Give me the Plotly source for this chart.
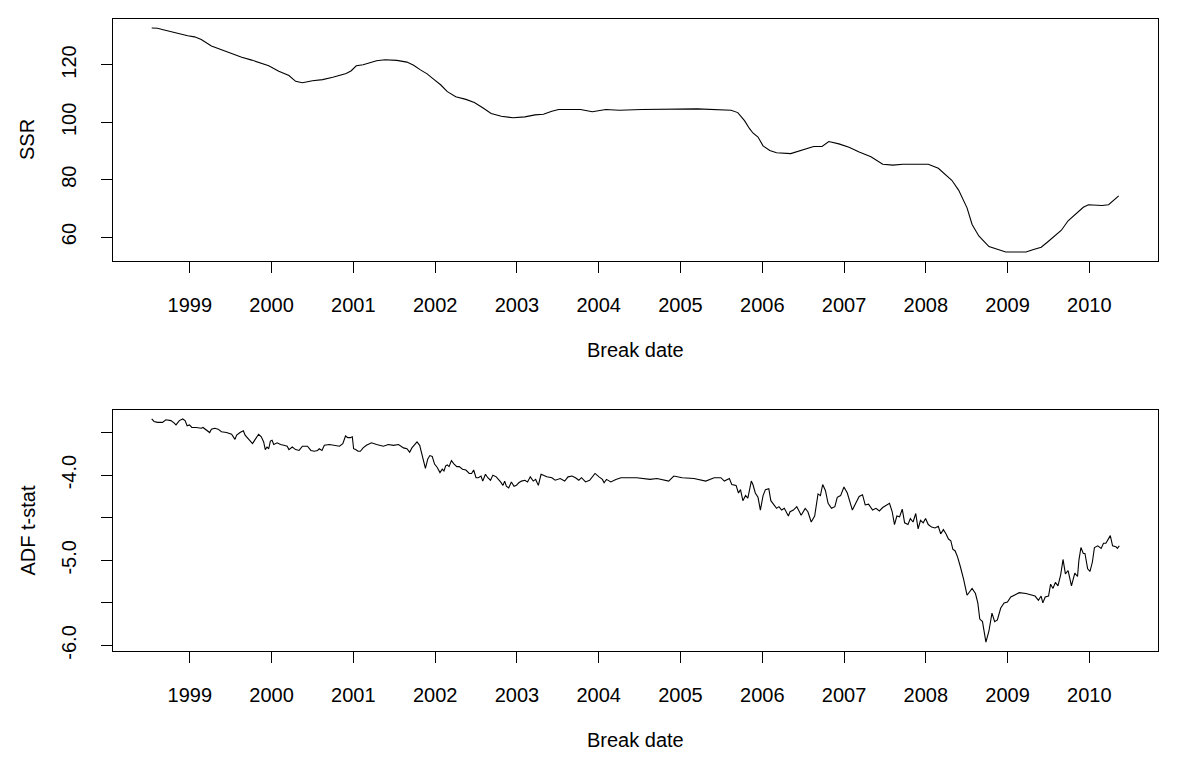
import plotly.graph_objects as go

# ---------------- data ----------------
ssr_years = [1998.534, 1998.604, 1998.687, 1998.769, 1998.852, 1998.975, 1999.058, 1999.140,
             1999.264, 1999.387, 1999.511, 1999.635, 1999.758, 1999.882, 1999.965, 2000.088,
             2000.212, 2000.294, 2000.377, 2000.500, 2000.624, 2000.748, 2000.830, 2000.913,
             2000.974, 2001.036, 2001.119, 2001.201, 2001.284, 2001.387, 2001.531, 2001.655,
             2001.737, 2001.820, 2001.902, 2001.984, 2002.067, 2002.149, 2002.252, 2002.376,
             2002.479, 2002.582, 2002.685, 2002.809, 2002.953, 2003.097, 2003.221, 2003.324,
             2003.427, 2003.510, 2003.777, 2003.922, 2004.087, 2004.251, 2004.526, 2005.206,
             2005.495, 2005.618, 2005.701, 2005.783, 2005.845, 2005.886, 2005.948, 2006.010,
             2006.092, 2006.175, 2006.348, 2006.443, 2006.546, 2006.628, 2006.731, 2006.814,
             2006.937, 2007.061, 2007.185, 2007.329, 2007.473, 2007.597, 2007.721, 2008.030,
             2008.153, 2008.236, 2008.318, 2008.401, 2008.462, 2008.504, 2008.566, 2008.648,
             2008.772, 2008.875, 2008.978, 2009.081, 2009.225, 2009.308, 2009.411, 2009.493,
             2009.575, 2009.658, 2009.740, 2009.843, 2009.926, 2009.988, 2010.070, 2010.153,
             2010.235, 2010.297, 2010.359]
ssr_values = [132.9, 132.8, 132.2, 131.6, 130.9, 130.2, 129.8, 128.9,
              126.6, 125.3, 124.0, 122.7, 121.7, 120.6, 119.7, 117.8,
              116.3, 114.3, 113.8, 114.5, 114.9, 115.7, 116.4, 117.0,
              118.0, 119.7, 120.1, 120.8, 121.5, 121.8, 121.6, 121.0,
              119.9, 118.3, 116.9, 115.0, 113.1, 110.7, 108.9, 108.0,
              106.9, 105.1, 103.1, 102.1, 101.6, 101.9, 102.6, 102.8,
              103.9, 104.5, 104.5, 103.7, 104.5, 104.2, 104.5, 104.7,
              104.5, 104.2, 103.4, 100.6, 97.8, 96.3, 94.9, 91.8,
              90.2, 89.4, 89.1, 89.9, 90.8, 91.6, 91.6, 93.3,
              92.5, 91.3, 89.7, 88.0, 85.4, 85.1, 85.4, 85.4,
              84.0, 82.0, 79.8, 76.4, 73.0, 70.2, 64.4, 60.4,
              56.7, 55.8, 54.8, 54.8, 54.8, 55.6, 56.5, 58.4,
              60.3, 62.4, 65.7, 68.2, 70.4, 71.3, 71.1, 71.0,
              71.3, 72.7, 74.4]

adf_years = [1998.534, 1998.563, 1998.604, 1998.666, 1998.707, 1998.769, 1998.810, 1998.831,
             1998.872, 1998.913, 1998.942, 1998.967, 1998.996, 1999.025, 1999.078, 1999.140,
             1999.161, 1999.202, 1999.243, 1999.264, 1999.305, 1999.346, 1999.387, 1999.449,
             1999.511, 1999.552, 1999.573, 1999.614, 1999.655, 1999.676, 1999.717, 1999.767,
             1999.800, 1999.841, 1999.874, 1999.903, 1999.923, 1999.944, 1999.965, 1999.985,
             2000.006, 2000.026, 2000.068, 2000.109, 2000.150, 2000.191, 2000.212, 2000.253,
             2000.294, 2000.336, 2000.377, 2000.439, 2000.480, 2000.521, 2000.562, 2000.583,
             2000.616, 2000.645, 2000.707, 2000.768, 2000.830, 2000.871, 2000.904, 2000.933,
             2000.962, 2000.987, 2001.003, 2001.028, 2001.057, 2001.086, 2001.119, 2001.160,
             2001.222, 2001.284, 2001.366, 2001.428, 2001.490, 2001.552, 2001.613, 2001.655,
             2001.688, 2001.716, 2001.745, 2001.778, 2001.811, 2001.840, 2001.869, 2001.881,
             2001.910, 2001.935, 2001.964, 2001.993, 2002.026, 2002.059, 2002.087, 2002.108,
             2002.129, 2002.149, 2002.170, 2002.199, 2002.232, 2002.265, 2002.294, 2002.335,
             2002.376, 2002.417, 2002.446, 2002.471, 2002.500, 2002.528, 2002.561, 2002.582,
             2002.615, 2002.644, 2002.677, 2002.706, 2002.747, 2002.776, 2002.800, 2002.829,
             2002.850, 2002.871, 2002.899, 2002.932, 2002.965, 2002.994, 2003.023, 2003.056,
             2003.097, 2003.130, 2003.163, 2003.200, 2003.229, 2003.262, 2003.295, 2003.324,
             2003.365, 2003.427, 2003.468, 2003.530, 2003.584, 2003.625, 2003.674, 2003.716,
             2003.757, 2003.790, 2003.839, 2003.889, 2003.955, 2004.004, 2004.045, 2004.066,
             2004.095, 2004.148, 2004.210, 2004.272,
             2004.299, 2004.382, 2004.464, 2004.629, 2004.712, 2004.856, 2004.918, 2005.021,
             2005.165, 2005.309, 2005.412, 2005.495, 2005.536, 2005.598, 2005.627, 2005.680,
             2005.709, 2005.734, 2005.763, 2005.796, 2005.824, 2005.866, 2005.886, 2005.915,
             2005.948, 2005.977, 2006.010, 2006.039, 2006.080, 2006.105, 2006.146, 2006.175,
             2006.204, 2006.237, 2006.270, 2006.319, 2006.340, 2006.381, 2006.422, 2006.476,
             2006.525, 2006.558, 2006.599, 2006.641, 2006.682, 2006.711, 2006.739, 2006.772,
             2006.805, 2006.847, 2006.888, 2006.917, 2006.958, 2006.999, 2007.040, 2007.069,
             2007.102, 2007.143, 2007.185, 2007.226, 2007.259, 2007.300, 2007.349, 2007.391,
             2007.432, 2007.473, 2007.514, 2007.556, 2007.589, 2007.617, 2007.646, 2007.679,
             2007.712, 2007.741, 2007.782, 2007.811, 2007.844, 2007.877, 2007.906, 2007.935,
             2007.968, 2007.997, 2008.030, 2008.071, 2008.112, 2008.153, 2008.182, 2008.215,
             2008.248, 2008.277, 2008.306, 2008.330, 2008.359, 2008.388, 2008.421, 2008.462,
             2008.504, 2008.537, 2008.566, 2008.607, 2008.636, 2008.660, 2008.693, 2008.735,
             2008.772, 2008.809, 2008.842, 2008.875, 2008.916, 2008.957, 2008.998, 2009.039,
             2009.081, 2009.142, 2009.225, 2009.287, 2009.336, 2009.377, 2009.410, 2009.431,
             2009.460, 2009.501, 2009.526, 2009.555, 2009.584, 2009.616, 2009.649, 2009.678,
             2009.707, 2009.740, 2009.781, 2009.822, 2009.855, 2009.872, 2009.897, 2009.926,
             2009.946, 2009.979, 2010.008, 2010.037, 2010.062, 2010.103, 2010.144, 2010.173,
             2010.202, 2010.256, 2010.284, 2010.325, 2010.342, 2010.366]
adf_values = [-3.34, -3.37, -3.38, -3.38, -3.35, -3.36, -3.39, -3.41,
              -3.36, -3.34, -3.36, -3.42, -3.41, -3.44, -3.44, -3.45,
              -3.44, -3.47, -3.50, -3.46, -3.45, -3.46, -3.49, -3.50,
              -3.52, -3.58, -3.53, -3.50, -3.48, -3.53, -3.57, -3.63,
              -3.58, -3.52, -3.55, -3.61, -3.70, -3.67, -3.69, -3.60,
              -3.59, -3.64, -3.62, -3.64, -3.65, -3.66, -3.70, -3.67,
              -3.70, -3.71, -3.66, -3.66, -3.71, -3.72, -3.71, -3.69,
              -3.71, -3.65, -3.64, -3.65, -3.66, -3.63, -3.54, -3.56,
              -3.56, -3.55, -3.69, -3.70, -3.72, -3.72, -3.68, -3.65,
              -3.62, -3.64, -3.66, -3.64, -3.65, -3.64, -3.68, -3.69,
              -3.73, -3.68, -3.65, -3.61, -3.65, -3.77, -3.86, -3.92,
              -3.81, -3.77, -3.78, -3.87, -3.91, -3.97, -3.93, -3.95,
              -3.89, -3.88, -3.90, -3.83, -3.87, -3.90, -3.90, -3.93,
              -3.94, -3.98, -3.98, -3.94, -4.03, -4.03, -4.01, -4.07,
              -3.99, -4.03, -4.06, -4.00, -4.02, -4.05, -4.08, -4.12,
              -4.07, -4.13, -4.15, -4.08, -4.13, -4.12, -4.09, -4.07,
              -4.06, -4.08, -4.02, -4.07, -4.05, -4.12, -3.99, -4.00,
              -4.02, -4.03, -4.06, -4.04, -4.07, -4.02, -4.01, -4.03,
              -4.06, -4.03, -4.08, -4.06, -3.98, -4.02, -4.05, -4.09,
              -4.05, -4.08, -4.05, -4.03,
              -4.03, -4.03, -4.03, -4.05, -4.04, -4.07, -4.01, -4.03,
              -4.04, -4.07, -4.03, -4.03, -4.07, -4.04, -4.11, -4.12,
              -4.21, -4.17, -4.30, -4.24, -4.27, -4.07, -4.11, -4.21,
              -4.26, -4.41, -4.24, -4.17, -4.16, -4.30, -4.36, -4.39,
              -4.37, -4.41, -4.39, -4.48, -4.43, -4.41, -4.37, -4.47,
              -4.39, -4.43, -4.55, -4.48, -4.22, -4.24, -4.11, -4.18,
              -4.33, -4.39, -4.37, -4.26, -4.24, -4.14, -4.21, -4.30,
              -4.41, -4.33, -4.25, -4.23, -4.35, -4.34, -4.41, -4.39,
              -4.42, -4.38, -4.35, -4.33, -4.43, -4.58, -4.48, -4.49,
              -4.40, -4.56, -4.58, -4.51, -4.55, -4.45, -4.63, -4.53,
              -4.56, -4.51, -4.58, -4.61, -4.62, -4.60, -4.69, -4.64,
              -4.69, -4.75, -4.77, -4.87, -4.89, -4.96, -5.07, -5.22,
              -5.41, -5.36, -5.33, -5.39, -5.50, -5.69, -5.72, -5.96,
              -5.83, -5.62, -5.72, -5.70, -5.56, -5.50, -5.49, -5.43,
              -5.41, -5.38, -5.39, -5.41, -5.42, -5.47, -5.42, -5.50,
              -5.43, -5.42, -5.28, -5.33, -5.26, -5.30, -5.17, -4.99,
              -5.16, -5.12, -5.30, -5.15, -5.19, -5.00, -4.85, -4.92,
              -4.92, -5.10, -5.13, -5.02, -4.85, -4.83, -4.86, -4.80,
              -4.80, -4.71, -4.83, -4.84, -4.86, -4.83]

year_ticks = list(range(1999, 2011))
year_labels = [str(y) for y in year_ticks]
ssr_ticks = [60, 80, 100, 120]
ssr_tick_labels = ["60", "80", "100", "120"]
adf_ticks = [-6.0, -5.5, -5.0, -4.5, -4.0, -3.5]
adf_tick_labels = ["-6.0", "", "-5.0", "", "-4.0", ""]

x_title = "Break date"
ssr_title = "SSR"
adf_title = "ADF t-stat"


# R-style axis range: data range expanded 4% on each side
def r_range(vals):
    lo, hi = min(vals), max(vals)
    pad = 0.04 * (hi - lo)
    return [lo - pad, hi + pad]


x_range = r_range(ssr_years + adf_years)

# ---------------- layout (pixels) ----------------
W, H = 1199, 771
ML, MR, MT, MB = 105, 49, 11, 128
plot_w = W - ML - MR
plot_h = H - MT - MB
y0 = H - MB  # pixel row of the bottom of the plotting area
TOP_BOTTOM_PX = 253.0   # bottom edge of upper panel
LOW_TOP_PX = 402.0      # top edge of lower panel
top_dom = [(y0 - TOP_BOTTOM_PX) / plot_h, 1.0]
low_dom = [0.0, (y0 - LOW_TOP_PX) / plot_h]

FONT = "Liberation Sans, Arial, Helvetica, sans-serif"
FS = 20

fig = go.Figure()
fig.add_trace(go.Scatter(x=ssr_years, y=ssr_values, mode="lines",
                         line=dict(color="black", width=1.1),
                         xaxis="x", yaxis="y", showlegend=False, hoverinfo="skip"))
fig.add_trace(go.Scatter(x=adf_years, y=adf_values, mode="lines",
                         line=dict(color="black", width=1.1),
                         xaxis="x2", yaxis="y2", showlegend=False, hoverinfo="skip"))

common_axis = dict(showline=True, mirror=True, linecolor="black", linewidth=1,
                   ticks="outside", ticklen=11, tickwidth=1, tickcolor="black",
                   showgrid=False, zeroline=False,
                   tickfont=dict(family=FONT, size=FS, color="black"))

xax = dict(common_axis, range=x_range, tickmode="array", tickvals=year_ticks,
           ticktext=year_labels, ticklabelstandoff=15)

fig.update_layout(
    width=W, height=H,
    margin=dict(l=ML, r=MR, t=MT, b=MB, pad=0),
    paper_bgcolor="white", plot_bgcolor="white",
    xaxis=dict(xax, anchor="y", domain=[0, 1]),
    xaxis2=dict(xax, anchor="y2", domain=[0, 1]),
    yaxis=dict(common_axis, anchor="x", domain=top_dom, range=r_range(ssr_values),
               tickmode="array", tickvals=ssr_ticks, ticktext=ssr_tick_labels,
               tickangle=-90, ticklabelstandoff=17),
    yaxis2=dict(common_axis, anchor="x2", domain=low_dom, range=r_range(adf_values),
                tickmode="array", tickvals=adf_ticks, ticktext=adf_tick_labels,
                tickangle=-90, ticklabelstandoff=17),
)

title_x = (19 - ML) / plot_w
ann_font = dict(family=FONT, size=FS, color="black")
fig.add_annotation(text=ssr_title, xref="paper", yref="paper", x=title_x,
                   y=sum(top_dom) / 2, textangle=-90, showarrow=False,
                   xanchor="center", yanchor="middle", font=ann_font)
fig.add_annotation(text=adf_title, xref="paper", yref="paper", x=title_x,
                   y=sum(low_dom) / 2, textangle=-90, showarrow=False,
                   xanchor="center", yanchor="middle", font=ann_font)
fig.add_annotation(text=x_title, xref="paper", yref="paper", x=0.5,
                   y=(y0 - (TOP_BOTTOM_PX + 89)) / plot_h, showarrow=False,
                   xanchor="center", yanchor="middle", font=ann_font)
fig.add_annotation(text=x_title, xref="paper", yref="paper", x=0.5,
                   y=(y0 - (H - MB + 89)) / plot_h, showarrow=False,
                   xanchor="center", yanchor="middle", font=ann_font)

fig.write_html("out.html")
